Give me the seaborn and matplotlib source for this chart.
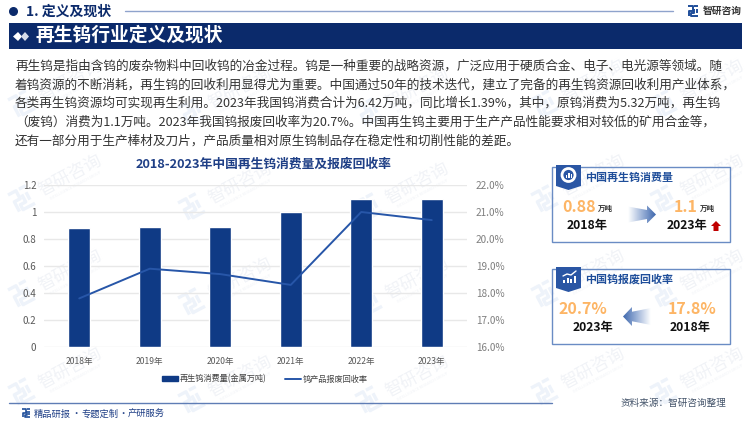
import numpy as np
import matplotlib
matplotlib.use("Agg")
import matplotlib.pyplot as plt
import seaborn as sns
from matplotlib.colors import LinearSegmentedColormap
from matplotlib.patches import Rectangle, Polygon
from matplotlib.lines import Line2D
from matplotlib.ticker import FuncFormatter

# dados do grafico
years = ["2018年", "2019年", "2020年", "2021年", "2022年", "2023年"]
consumption = [0.88, 0.89, 0.89, 1.0, 1.1, 1.1]
recovery_rate = [17.8, 18.9, 18.7, 18.3, 21.0, 20.7]
left_ticks = [0, 0.2, 0.4, 0.6, 0.8, 1, 1.2]
right_ticks = [16, 17, 18, 19, 20, 21, 22]

body_lines = [
    "再生钨是指由含钨的废杂物料中回收钨的冶金过程。钨是一种重要的战略资源，广泛应用于硬质合金、电子、电光源等领域。随",
    "着钨资源的不断消耗，再生钨的回收利用显得尤为重要。中国通过50年的技术迭代，建立了完备的再生钨资源回收利用产业体系，",
    "各类再生钨资源均可实现再生利用。2023年我国钨消费合计为6.42万吨，同比增长1.39%，其中，原钨消费为5.32万吨，再生钨",
    "（废钨）消费为1.1万吨。2023年我国钨报废回收率为20.7%。中国再生钨主要用于生产产品性能要求相对较低的矿用合金等，",
    "还有一部分用于生产棒材及刀片，产品质量相对原生钨制品存在稳定性和切削性能的差距。",
]

NAVY = "#0b2a6b"
BAR = "#0f3a85"
LINE = "#2756a8"
BORDER = "#6a8cc4"
ORANGE = "#fdb565"

sns.set_theme(style="white")
plt.rcParams["font.family"] = ["Noto Sans CJK SC", "DejaVu Sans"]

fig = plt.figure(figsize=(7.5, 4.21), dpi=100, facecolor="white")

# camada de fundo em coordenadas de pixel
bg = fig.add_axes([0, 0, 1, 1], zorder=0)
bg.set_xlim(0, 750)
bg.set_ylim(421, 0)
bg.axis("off")


def draw_logo(ax, x, y, s, color, rot=0.0, lw=1.5, zorder=3):
    # logo simplificado feito de tracos
    segs = [
        [(0, 0), (0.45, 0), (0.45, 0.45), (0.12, 0.45), (0.12, 1.0)],
        [(0.62, 0), (1, 0)],
        [(0.62, 0.3), (0.62, 0.72), (0.32, 0.72), (0.32, 1), (1, 1)],
        [(0.86, 0.3), (0.86, 0.72)],
    ]
    c, sn = np.cos(np.radians(rot)), np.sin(np.radians(rot))
    for seg in segs:
        p = np.array(seg) * s
        xs = x + p[:, 0] * c + p[:, 1] * sn
        ys = y - p[:, 0] * sn + p[:, 1] * c
        ax.plot(xs, ys, color=color, lw=lw, solid_capstyle="butt", zorder=zorder)


# marca d'agua
for col, cx in enumerate([70, 240, 417, 593, 712]):
    for cy in [80, 175, 270, 368]:
        yy = cy + (8 if col in (1, 2) else 0)
        bg.text(cx, yy, "智研咨询", fontsize=12.5, color="#f1f3f7", rotation=28,
                ha="center", va="center", zorder=0.5)
        bg.text(cx + 6, yy + 11, "INTELLIGENCE RESEARCH GROUP", fontsize=2.6, color="#f1f3f7",
                rotation=28, ha="center", va="center", zorder=0.5)
        draw_logo(bg, cx - 62, yy + 20, 20, "#eef3fa", rot=28, lw=2.4, zorder=0.5)

# cabecalho
bg.add_patch(plt.Circle((13.5, 11.5), 3.8, color=NAVY))
bg.text(26, 11.5, "1. 定义及现状", fontsize=10, fontweight="bold", color=NAVY, va="center")
bg.plot([125, 673], [10.5, 10.5], color="#8fa3cc", lw=1)
draw_logo(bg, 688, 6, 10, "#1f4e9a", lw=1.4)
bg.text(703, 10.5, "智研咨询", fontsize=7, fontweight="bold", color="#333333", va="center")

bg.add_patch(Rectangle((9, 23), 733, 26, color=NAVY, lw=0))
bg.add_patch(Polygon([(13, 36.5), (18, 32), (22, 36.5), (18, 41)], color="white", lw=0))
bg.add_patch(Polygon([(21, 36.5), (25, 32), (29, 36.5), (25, 41)], color="#d5dcea", lw=0))
bg.text(35, 35.5, "再生钨行业定义及现状", fontsize=13.5, fontweight="bold", color="white", va="center")

# texto principal
for y, line in zip([66, 85, 103.5, 122, 141], body_lines):
    bg.text(15, y, line, fontsize=9.1, color="#333333", va="center")

bg.text(264, 164, "2018-2023年中国再生钨消费量及报废回收率", fontsize=9.2, fontweight="bold",
        color="#1f3f86", ha="center", va="center")

# grafico principal
ax = fig.add_axes([44 / 750, 1 - 347 / 421, 423 / 750, 162 / 421], zorder=2)
ax.patch.set_alpha(0)
sns.barplot(x=years, y=consumption, color=BAR, width=0.31, saturation=1, ax=ax, zorder=3)
ax.set_ylim(0, 1.2)
ax.set_xlim(-0.5, 5.5)
ax.set_yticks(left_ticks)
ax.set_yticklabels(["0", "0.2", "0.4", "0.6", "0.8", "1", "1.2"])
ax.yaxis.grid(True, color="#e8e8e8", lw=1)
ax.set_axisbelow(True)
ax.tick_params(axis="y", labelsize=7, labelcolor="#595959", length=0, pad=5.5)
ax.tick_params(axis="x", labelsize=6.2, labelcolor="#595959", length=0, pad=7)
sns.despine(ax=ax, left=True, right=True, top=True, bottom=True)

ax2 = ax.twinx()
sns.lineplot(x=range(len(years)), y=recovery_rate, color=LINE, lw=1.4, ax=ax2, zorder=5)
ax2.set_ylim(16, 22)
ax2.set_yticks(right_ticks)
ax2.yaxis.set_major_formatter(FuncFormatter(lambda v, _: f"{v:.1f}%"))
ax2.tick_params(axis="y", labelsize=7.2, labelcolor="#7f7f7f", length=0, pad=6.5)
ax2.grid(False)
sns.despine(ax=ax2, left=True, right=True, top=True, bottom=True)

handles = [
    Rectangle((0, 0), 1, 1, color=BAR),
    Line2D([0], [0], color=LINE, lw=1.4),
]
fig.legend(handles, ["再生钨消费量(金属万吨)", "钨产品报废回收率"], loc="center",
           bbox_to_anchor=(265 / 750, 1 - 379 / 421), ncol=2, frameon=False, fontsize=5.9,
           labelcolor="#404040", handlelength=1.9, handleheight=0.6, handletextpad=0.2,
           columnspacing=2.3)

# paineis da direita
gradient = np.linspace(0, 1, 64).reshape(1, -1)
fade = LinearSegmentedColormap.from_list("fade", ["#ffffff", "#9db3d8", "#3f68ae"])


def draw_panel(y0, title):
    bg.add_patch(Rectangle((552, y0), 178, 75, fill=False, ec=BORDER, lw=1))
    bg.add_patch(Polygon([(556, y0 - 2), (581, y0 - 2), (581, y0 + 19), (568.5, y0 + 23), (556, y0 + 19)],
                         color="#2a56a4", lw=0))
    bg.text(585, y0 + 10.5, title, fontsize=7.9, fontweight="bold", color="#1f4e9a", va="center")


def gradient_arrow(x0, x1, ym, h, reverse=False):
    head = 9
    if reverse:
        pts = [(x0, ym), (x0 + head, ym - h / 2), (x0 + head, ym - h / 4), (x1, ym - h / 2 + 1),
               (x1, ym + h / 2 - 1), (x0 + head, ym + h / 4), (x0 + head, ym + h / 2)]
        g = gradient[:, ::-1]
    else:
        pts = [(x1, ym), (x1 - head, ym - h / 2), (x1 - head, ym - h / 4), (x0, ym - h / 2 + 1),
               (x0, ym + h / 2 - 1), (x1 - head, ym + h / 4), (x1 - head, ym + h / 2)]
        g = gradient
    im = bg.imshow(g, extent=(x0, x1, ym + h / 2, ym - h / 2), cmap=fade, aspect="auto", zorder=2)
    poly = Polygon(pts, transform=bg.transData, fill=False, lw=0)
    bg.add_patch(poly)
    im.set_clip_path(poly)


draw_panel(167, "中国再生钨消费量")
draw_panel(269, "中国钨报废回收率")

# icones dos paineis
bg.add_patch(plt.Circle((568.5, 175), 6.5, fill=False, ec="white", lw=2))
for bx, bh in zip([565.5, 568, 570.5], [3, 5, 4]):
    bg.add_patch(Rectangle((bx, 178 - bh), 1.6, bh, color="white", lw=0))
for bx, bh in zip([563, 566.5, 570, 573.5], [3, 5, 4, 7]):
    bg.add_patch(Rectangle((bx, 283 - bh), 2.2, bh, color="white", lw=0))
bg.plot([563, 567, 571, 576], [276, 274, 275, 271], color="white", lw=1)

bg.text(579, 207, "0.88", fontsize=11.5, fontweight="bold", color=ORANGE, ha="center", va="center")
bg.text(605, 208, "万吨", fontsize=5.4, fontweight="bold", color="#333333", ha="center", va="center")
bg.text(587, 225.5, "2018年", fontsize=8.8, fontweight="bold", color="#111111", ha="center", va="center")
bg.text(686, 207, "1.1", fontsize=11.5, fontweight="bold", color=ORANGE, ha="center", va="center")
bg.text(707, 208, "万吨", fontsize=5.4, fontweight="bold", color="#333333", ha="center", va="center")
bg.text(687, 225.5, "2023年", fontsize=8.8, fontweight="bold", color="#111111", ha="center", va="center")
bg.add_patch(Polygon([(716, 221), (721, 226), (718.5, 226), (718.5, 231), (713.5, 231), (713.5, 226), (711, 226)],
                     color="#c00000", lw=0))
gradient_arrow(628, 656, 214.5, 18)

bg.text(583, 309, "20.7%", fontsize=11.5, fontweight="bold", color=ORANGE, ha="center", va="center")
bg.text(593, 327.5, "2023年", fontsize=8.8, fontweight="bold", color="#111111", ha="center", va="center")
bg.text(692, 309, "17.8%", fontsize=11.5, fontweight="bold", color=ORANGE, ha="center", va="center")
bg.text(690, 327.5, "2018年", fontsize=8.8, fontweight="bold", color="#111111", ha="center", va="center")
gradient_arrow(623, 651, 316.5, 19, reverse=True)

# rodape
bg.plot([9, 552], [403, 403], color="#5f7db5", lw=1)
draw_logo(bg, 22, 409, 8, "#1f4e9a", lw=1.2)
for x, label in zip([34, 81, 128], ["精品研报", "专题定制", "产研服务"]):
    bg.text(x, 414, label, fontsize=6.7, color="#1f3f86", va="center")
for x in [76, 123]:
    bg.text(x, 414, "·", fontsize=6.7, color="#1f3f86", ha="center", va="center")
bg.text(621, 403, "资料来源：智研咨询整理", fontsize=6.9, color="#44546a", va="center")

bg.set_xlim(0, 750)
bg.set_ylim(421, 0)

fig.savefig("out.png", dpi=100)
plt.close(fig)
